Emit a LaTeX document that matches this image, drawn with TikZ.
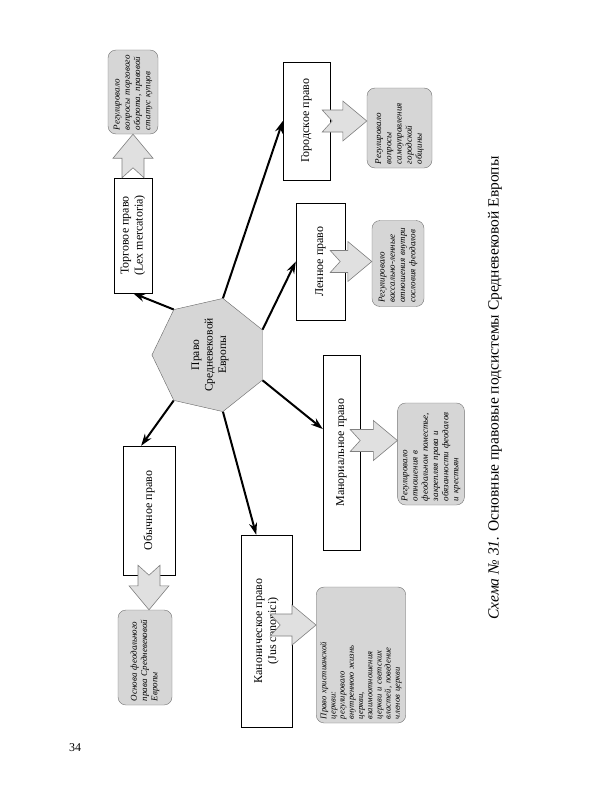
\documentclass[tikz,border=0pt]{standalone}
\usepackage{fontspec}
\setmainfont{Liberation Serif}
\usetikzlibrary{arrows.meta,calc,shapes.geometric}

% wide grey arrow with notched tail: [tail shift]{tail}{tip}
\newcommand{\fatarrow}[3][(0,0)]{%
  \path ($(#2)+#1$) coordinate (fa-t) (#3) coordinate (fa-h);
  \draw[fat] ($(fa-t)!11pt!90:(fa-h)$) -- ($(fa-h)!24pt!(fa-t)!11pt!-90:(fa-t)$)
    -- ($(fa-h)!24pt!(fa-t)!20pt!-90:(fa-t)$) -- (fa-h)
    -- ($(fa-h)!24pt!(fa-t)!20pt!90:(fa-t)$) -- ($(fa-h)!24pt!(fa-t)!11pt!90:(fa-t)$)
    -- ($(fa-t)!11pt!-90:(fa-h)$) -- ($(fa-t)!10pt!(fa-h)$) -- cycle;}

\begin{document}
\begin{tikzpicture}[x=1pt, y=-1pt,
  lawbox/.style={draw, fill=white, rotate=90, align=center, inner sep=2pt, font=\fontsize{12}{14}\selectfont},
  note/.style={draw=black!55, fill=black!16, rounded corners=8pt, rotate=90, align=left, inner sep=4pt, font=\fontsize{9}{10.2}\selectfont\itshape},
  core/.style={regular polygon, regular polygon sides=7, draw=black!60, fill=black!16, minimum size=114pt, inner sep=0pt, rotate=90, align=center, font=\fontsize{11.5}{13.5}\selectfont},
  link/.style={-{Stealth[length=12pt,width=8pt]}, line width=2pt},
  fat/.style={draw=black!50, fill=black!12, line width=0.6pt}
]
\fill[white] (0,0) rectangle (600,800);
\useasboundingbox (0,0) rectangle (600,800);

\node[core] (core) at (210,355) {Право\\Средневековой\\Европы};

\node[lawbox, minimum width=115pt, minimum height=38pt] (tor) at (133,235.5) {Торговое право\\(Lex mercatoria)};
\node[lawbox, minimum width=118pt, minimum height=47pt] (gor) at (306.5,121) {Городское право};
\node[lawbox, minimum width=117pt, minimum height=49pt] (len) at (320.5,261.5) {Ленное право};
\node[lawbox, minimum width=195pt, minimum height=37pt] (man) at (341.5,452.5) {Манориальное право};
\node[lawbox, minimum width=129pt, minimum height=52pt] (obych) at (149,510.5) {Обычное право};
\node[lawbox, minimum width=192pt, minimum height=51pt] (kan) at (266.5,631) {Каноническое право\\(Jus canonici)};

\node[note, text width=76pt, minimum height=50pt] (tornote) at (133,92) {Регулировало\\вопросы торгового\\оборота, правовой\\статус купцов};
\node[note, text width=72pt, minimum height=65pt] (gornote) at (399.5,128) {Регулировало\\вопросы\\самоуправления\\городской\\общины};
\node[note, text width=78pt, minimum height=52pt] (lennote) at (398,263.5) {Регулировало\\вассально-ленные\\отношения внутри\\сословия феодалов};
\node[note, text width=94pt, minimum height=66pt] (mannote) at (431,454) {Регулировало\\отношения в\\феодальном поместье,\\закрепляя права и\\обязанности феодалов\\и крестьян};
\node[note, text width=128pt, minimum height=86pt, font=\fontsize{8.6}{9.2}\selectfont\itshape] (kannote) at (361,655) {Право христианской\\церкви:\\регулировало\\внутреннюю жизнь\\церкви,\\взаимоотношения\\церкви и светских\\властей, поведение\\членов церкви};
\node[note, text width=87pt, minimum height=54pt] (obychnote) at (145,657.5) {Основа феодального\\права Средневековой\\Европы};

\draw[link] (core.corner 7) -- (tor.west);
\draw[link] (core.corner 6) -- (gor.north);
\draw[link] (core.corner 5) -- (len.north);
\draw[link] (core.corner 4) -- ($(man.north east)!0.38!(man.north west)$);
\draw[link] (core.corner 3) -- ($(kan.north east)!0.3!(kan.south east)$);
\draw[link] (core.corner 2) -- ($(obych.north east)!0.35!(obych.south east)$);

\coordinate (manarr) at ($(man.south)+(0,-12)$);
\coordinate (kanarr) at ($(kan.south)+(0,-6)$);

\fatarrow{tor.east}{tor.east |- tornote.west}
\fatarrow[(-8,0)]{gor.south}{gor.south -| gornote.north}
\fatarrow[(-15,0)]{len.south}{len.south -| lennote.north}
\fatarrow[(-10,0)]{manarr}{manarr -| mannote.north}
\fatarrow[(-22,0)]{kanarr}{kanarr -| kannote.north}
\fatarrow[(0,-10)]{obych.west}{obych.west |- obychnote.east}

\node[rotate=90, font=\fontsize{15.5}{18}\selectfont] (title) at (495,388) {\textit{Схема № 31.} Основные правовые подсистемы Средневековой Европы};
\node[font=\fontsize{12}{14}\selectfont] (pagenum) at (75,748) {34};
\end{tikzpicture}
\end{document}
